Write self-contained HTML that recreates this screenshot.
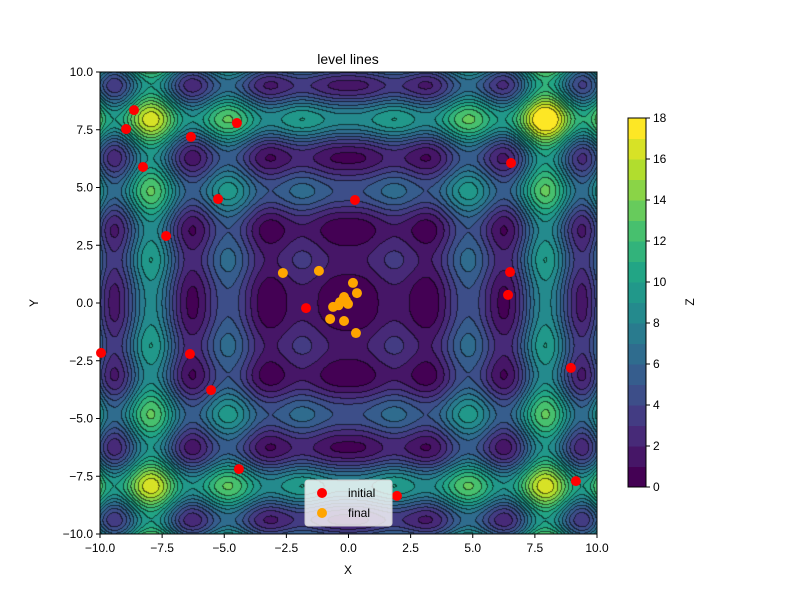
<!DOCTYPE html>
<html><head><meta charset="utf-8"><style>
body{margin:0;background:#fff;font-family:"Liberation Sans","DejaVu Sans",sans-serif;}
#wrap{position:relative;width:800px;height:600px;}
</style></head><body>
<div id="wrap">
<canvas id="field" width="497" height="462" style="position:absolute;left:100px;top:72px"></canvas>
<svg id="ov" width="800" height="600" style="position:absolute;left:0;top:0"></svg>
</div>
<script>
const initialX=[-8.63,-8.95,-6.34,-4.49,-8.27,-5.25,-7.34,0.26,6.54,6.50,6.42,-1.71,-6.38,-9.96,-5.53,-4.41,1.95,8.95,9.15];
const initialY=[8.35,7.53,7.19,7.79,5.89,4.50,2.90,4.46,6.06,1.34,0.35,-0.22,-2.21,-2.16,-3.77,-7.19,-8.35,-2.81,-7.71];
const finalX=[-2.64,-1.19,0.18,0.34,-0.18,-0.34,-0.02,-0.62,-0.74,-0.18,0.30,-0.4,-0.1];
const finalY=[1.30,1.39,0.87,0.43,0.26,0.04,-0.04,-0.17,-0.69,-0.78,-1.30,-0.1,0.1];
const xTicks=[-10,-7.5,-5,-2.5,0,2.5,5,7.5,10];
const yTicks=[-10,-7.5,-5,-2.5,0,2.5,5,7.5,10];
const cbTicks=[0,2,4,6,8,10,12,14,16,18];

const L=100,T=72,W=497,H=462;
const sx=v=>L+(v+10)/20*W, sy=v=>T+(10-v)/20*H;
const vir=[[68,1,84],[72,36,117],[65,68,135],[53,95,141],[42,120,142],[33,145,140],[34,168,132],[68,191,112],[122,209,81],[189,223,38],[253,231,37]];
function cmap(t){t=Math.max(0,Math.min(1,t));const p=t*10,i=Math.min(9,Math.floor(p)),f=p-i;return vir[i].map((c,k)=>Math.round(c+(vir[i+1][k]-c)*f));}
const f=(x,y)=>0.92*(Math.abs(x)*Math.sin(x)**2+Math.abs(y)*Math.sin(y)**2)+0.018*(x*x+y*y)+2.2*Math.exp(-((x-8)**2+(y-8)**2)/3);
const cv=document.getElementById('field'),ctx=cv.getContext('2d'),img=ctx.createImageData(W,H);
const lv=new Int16Array(W*H);
for(let j=0;j<H;j++)for(let i=0;i<W;i++){const x=-10+(i+0.5)/W*20,y=10-(j+0.5)/H*20;lv[j*W+i]=Math.min(17,Math.max(0,Math.floor(f(x,y))));}
for(let j=0;j<H;j++)for(let i=0;i<W;i++){const k=j*W+i;let c=cmap(lv[k]/17);
 const edge=(i<W-1&&lv[k+1]!==lv[k])||(j<H-1&&lv[k+W]!==lv[k]);
 if(edge)c=c.map(v=>v*0.4);
 img.data[k*4]=c[0];img.data[k*4+1]=c[1];img.data[k*4+2]=c[2];img.data[k*4+3]=255;}
ctx.putImageData(img,0,0);

const svg=document.getElementById('ov'),NS='http://www.w3.org/2000/svg';
function el(tag,a,txt){const e=document.createElementNS(NS,tag);for(const k in a)e.setAttribute(k,a[k]);if(txt!==undefined)e.textContent=txt;svg.appendChild(e);return e;}
let e;
e=el('rect',{x:L,y:T,width:W,height:H,fill:'none',stroke:'#000','stroke-width':1});


xTicks.forEach(v=>{const x=sx(v);
 e=el('line',{x1:x,x2:x,y1:T+H,y2:T+H+4,stroke:'#000'});
 
 
 e=el('text',{x:x,y:T+H+18,'font-size':12,'text-anchor':'middle'},v.toFixed(1).replace('-','−'));
 
 });
yTicks.forEach(v=>{const y=sy(v);
 e=el('line',{x1:L-4,x2:L,y1:y,y2:y,stroke:'#000'});
 
 
 e=el('text',{x:L-7,y:y+4,'font-size':12,'text-anchor':'end'},v.toFixed(1).replace('-','−'));
 
 });
e=el('text',{x:348,y:64,'font-size':14,'text-anchor':'middle'},'level lines');


e=el('text',{x:348,y:574,'font-size':12,'text-anchor':'middle'},'X');


e=el('text',{x:38,y:303,'font-size':12,'text-anchor':'middle',transform:'rotate(-90 38 303)'},'Y');


initialX.forEach((x,i)=>{e=el('circle',{cx:sx(x),cy:sy(initialY[i]),r:5,fill:'#ff0000'});
 
 });
finalX.forEach((x,i)=>{e=el('circle',{cx:sx(x),cy:sy(finalY[i]),r:5,fill:'#ffa500'});
 
 });
e=el('rect',{x:305,y:480,width:87,height:46,rx:3,fill:'#fff','fill-opacity':0.8,stroke:'#ccc'});


e=el('circle',{cx:322,cy:493,r:5,fill:'#ff0000'});


e=el('text',{x:348,y:497,'font-size':12},'initial');


e=el('circle',{cx:322,cy:513,r:5,fill:'#ffa500'});


e=el('text',{x:348,y:517,'font-size':12},'final');


const CX=628,CT=118,CB=487,CW=18;
for(let i=0;i<18;i++){const c=cmap(i/17);const y1=CT+(CB-CT)*(1-(i+1)/18);
 e=el('rect',{x:CX,y:y1,width:CW,height:(CB-CT)/18+0.5,fill:`rgb(${c})`});
 
 }
e=el('rect',{x:CX,y:CT,width:CW,height:CB-CT,fill:'none',stroke:'#000'});


cbTicks.forEach(v=>{const y=CB-(CB-CT)*v/18;
 e=el('line',{x1:CX+CW,x2:CX+CW+4,y1:y,y2:y,stroke:'#000'});
 
 
 e=el('text',{x:CX+CW+7,y:y+4,'font-size':12},String(v));
 
 });
e=el('text',{x:694,y:302,'font-size':12,'text-anchor':'middle',transform:'rotate(-90 694 302)'},'Z');


</script>
</body></html>
